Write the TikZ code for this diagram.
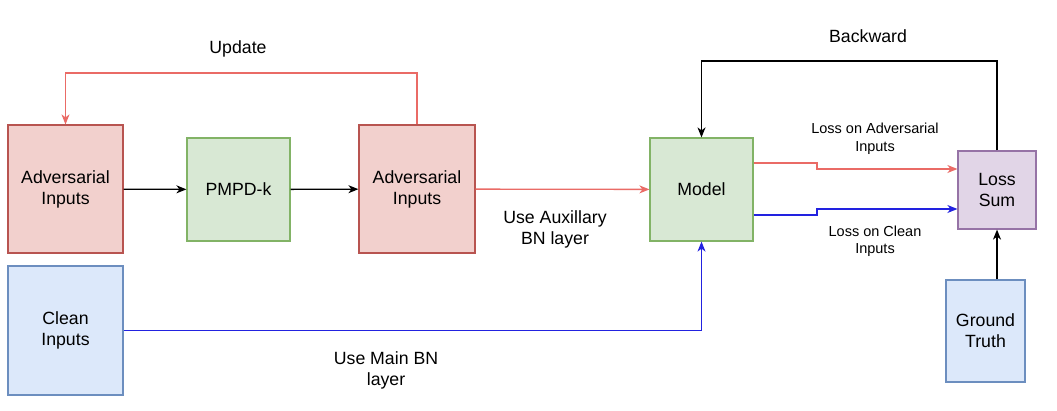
\documentclass[tikz,border=0pt]{standalone}
\usepackage{fontspec}
\setmainfont{Liberation Sans}
\usetikzlibrary{arrows.meta}
\definecolor{redfill}{HTML}{F2D0CD}
\definecolor{redline}{HTML}{B85450}
\definecolor{greenfill}{HTML}{D8E8D4}
\definecolor{greenline}{HTML}{82B366}
\definecolor{bluefill}{HTML}{DCE8FA}
\definecolor{blueline}{HTML}{6C8EBF}
\definecolor{purplefill}{HTML}{E1D5E7}
\definecolor{purpleline}{HTML}{9673A6}
\definecolor{redarrow}{HTML}{EA6B66}
\definecolor{bluearrow}{HTML}{2222E0}
\tikzset{
  box/.style={draw, line width=1.2pt, inner sep=0pt, align=center,
    font=\fontsize{17.7}{21}\selectfont},
  redbox/.style={box, fill=redfill, draw=redline},
  greenbox/.style={box, fill=greenfill, draw=greenline},
  bluebox/.style={box, fill=bluefill, draw=blueline},
  purplebox/.style={box, fill=purplefill, draw=purpleline},
  conn/.style={line width=1.3pt, -{Stealth[length=10pt,width=8pt,inset=3pt]}},
  blackconn/.style={conn, black},
  redconn/.style={conn, redarrow},
  blueconn/.style={conn, bluearrow},
  biglabel/.style={align=center, inner sep=0pt, font=\fontsize{17.7}{21}\selectfont},
  smalllabel/.style={align=center, inner sep=0pt, font=\fontsize{14.5}{17.5}\selectfont},
}
\begin{document}
\begin{tikzpicture}[x=1pt,y=-1pt]
\useasboundingbox (0,0) rectangle (1057,410);
\fill[white] (0,0) rectangle (1057,410);

\node[redbox, minimum width=115pt, minimum height=128pt] (adv1) at (65.5,189) {Adversarial\\Inputs};
\node[greenbox, minimum width=103pt, minimum height=103pt] (pmpd) at (238.5,189.5) {PMPD-k};
\node[redbox, minimum width=116pt, minimum height=128pt] (adv2) at (417,189) {Adversarial\\Inputs};
\node[bluebox, minimum width=115pt, minimum height=129pt] (clean) at (65.5,330.5) {Clean\\Inputs};
\node[greenbox, minimum width=103pt, minimum height=103pt] (model) at (701.5,189.5) {Model};
\node[purplebox, minimum width=78pt, minimum height=78pt] (loss) at (997,190) {Loss\\Sum};
\node[bluebox, minimum width=79pt, minimum height=102pt] (gt) at (985.5,331) {Ground\\Truth};

\node[biglabel] (lupdate) at (238,49) {Update};
\node[biglabel] (lback) at (868,36) {Backward};
\node[smalllabel] (ladv) at (875,138.5) {Loss on Adversarial\\Inputs};
\node[smalllabel] (lclean) at (875,241) {Loss on Clean\\Inputs};
\node[biglabel] (laux) at (555,229) {Use Auxillary\\BN layer};
\node[biglabel] (lmain) at (386,370) {Use Main BN\\layer};

\coordinate (upd) at (417,73);
\coordinate (bwd) at (997,61);
\coordinate (ra) at (817,163);
\coordinate (rb) at (817,169);
\coordinate (ba) at (817,215);
\coordinate (bb) at (817,209);

\draw[blackconn] (adv1) -- (pmpd);
\draw[blackconn] (pmpd) -- (adv2);
\draw[redconn] (adv2) -- (model);
\draw[redconn] (adv2.north) -- (upd) -| (adv1.north);
\draw[blueconn] (clean.east) -| (model.south);
\draw[redconn] (model.east |- ra) -- (ra) -- (rb) -- (loss.west |- rb);
\draw[blueconn] (model.east |- ba) -- (ba) -- (bb) -- (loss.west |- bb);
\draw[blackconn] (loss.north) -- (bwd) -| (model.north);
\draw[blackconn] (gt.north -| loss.south) -- (loss.south);
\end{tikzpicture}
\end{document}
